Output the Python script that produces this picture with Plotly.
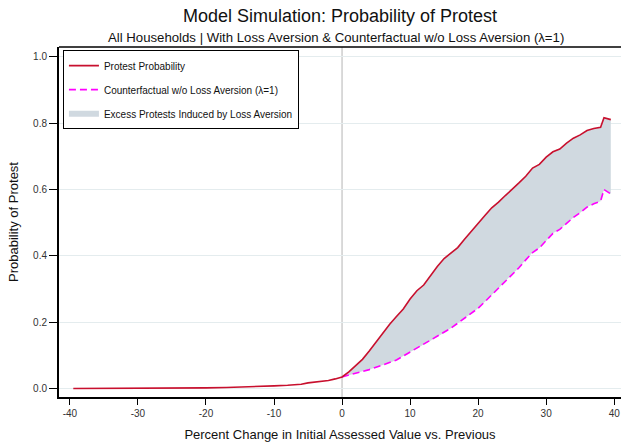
import plotly.graph_objects as go

# ---- data ----
x_neg = [-39.5, -35, -30, -25, -20, -17, -15, -12, -10, -8, -6, -5, -4, -3, -2, -1]
protest_neg = [0.000, 0.000, 0.000, 0.001, 0.002, 0.003, 0.004, 0.006, 0.008, 0.010,
               0.013, 0.017, 0.019, 0.021, 0.024, 0.029]

x_pos = [0, 1, 2, 3, 4, 5, 6, 7, 8, 9, 10, 11, 12, 13, 14, 15, 16, 17, 18, 19, 20,
         21, 22, 23, 24, 25, 26, 27, 28, 29, 30, 31, 32, 33, 34, 35, 36, 37, 38, 38.5, 39.5]
protest_pos = [0.035, 0.050, 0.068, 0.088, 0.113, 0.140, 0.168, 0.194, 0.217, 0.240,
               0.270, 0.295, 0.312, 0.340, 0.368, 0.392, 0.408, 0.425, 0.450, 0.475,
               0.498, 0.522, 0.545, 0.562, 0.582, 0.600, 0.620, 0.640, 0.665, 0.676,
               0.698, 0.714, 0.722, 0.740, 0.755, 0.765, 0.778, 0.784, 0.788, 0.817, 0.811]
counterfactual_pos = [0.035, 0.040, 0.046, 0.052, 0.057, 0.064, 0.071, 0.078, 0.086, 0.098,
                      0.110, 0.121, 0.133, 0.144, 0.156, 0.168, 0.182, 0.197, 0.212, 0.226,
                      0.242, 0.262, 0.282, 0.302, 0.324, 0.344, 0.364, 0.388, 0.410, 0.424,
                      0.445, 0.468, 0.480, 0.498, 0.516, 0.530, 0.547, 0.557, 0.565, 0.600, 0.587]

x_ticks = [-40, -30, -20, -10, 0, 10, 20, 30, 40]
y_ticks = [0.0, 0.2, 0.4, 0.6, 0.8, 1.0]

RED = "#C8102E"
MAG = "#FF00FF"
FILL = "#D0D9E0"
FONT = "Liberation Sans"

x_all = x_neg + x_pos
protest_all = protest_neg + protest_pos

fig = go.Figure()

# shaded gap (polygon built from the two series)
fig.add_trace(go.Scatter(
    x=x_pos + x_pos[::-1],
    y=counterfactual_pos + protest_pos[::-1],
    fill="toself", fillcolor=FILL, mode="none",
    name="Excess Protests Induced by Loss Aversion",
    legendrank=3, legendgroup="c", hoverinfo="skip"))

fig.add_trace(go.Scatter(
    x=x_pos, y=counterfactual_pos, mode="lines",
    line=dict(color=MAG, width=1.6, dash="7px,4px"),
    name="Counterfactual w/o Loss Aversion (λ=1)",
    legendrank=2, legendgroup="b"))

fig.add_trace(go.Scatter(
    x=x_all, y=protest_all, mode="lines",
    line=dict(color=RED, width=1.6),
    name="Protest Probability",
    legendrank=1, legendgroup="a"))

fig.update_layout(
    width=621, height=445,
    margin=dict(l=59, r=0, t=47, b=48),
    plot_bgcolor="white", paper_bgcolor="white",
    font=dict(family=FONT, color="#222"),
    showlegend=True,
    legend=dict(x=0.007, y=0.991, xanchor="left", yanchor="top",
                bordercolor="black", borderwidth=1, bgcolor="white",
                font=dict(size=10, family=FONT, color="#111"),
                tracegroupgap=5, traceorder="grouped"),
    title=dict(text="Model Simulation: Probability of Protest",
               x=0.5, xref="paper", xanchor="center",
               y=1 - 16 / 445, yref="container", yanchor="middle",
               font=dict(size=18, family=FONT, color="#111")),
    xaxis=dict(range=[-41.6, 41.0], tickvals=x_ticks, ticktext=[str(v) for v in x_ticks],
               showgrid=False, zeroline=False,
               showline=True, linecolor="black", linewidth=2,
               ticks="outside", ticklen=6, tickcolor="black", tickwidth=1,
               tickfont=dict(size=10, color="#333"),
               title=dict(text="Percent Change in Initial Assessed Value vs. Previous",
                          font=dict(size=13, color="#111"), standoff=12)),
    yaxis=dict(range=[-0.0256, 1.03], tickvals=y_ticks, ticktext=[f"{v:.1f}" for v in y_ticks],
               showgrid=True, gridcolor="#E4ECEE", gridwidth=1, zeroline=False,
               showline=True, linecolor="black", linewidth=2,
               ticks="outside", ticklen=8, tickcolor="black", tickwidth=1,
               tickfont=dict(size=10, color="#333"),
               title=dict(text="Probability of Protest",
                          font=dict(size=13, color="#111"), standoff=12)),
    shapes=[
        dict(type="line", xref="x", yref="paper", x0=0, x1=0, y0=0, y1=1,
             line=dict(color="#B5B5B5", width=1), layer="below"),
        dict(type="line", xref="paper", yref="paper", x0=0, x1=1, y0=1, y1=1,
             line=dict(color="black", width=1.5)),
    ],
    annotations=[
        dict(text="All Households | With Loss Aversion & Counterfactual w/o Loss Aversion (λ=1)",
             xref="paper", yref="paper", x=0.493, y=1 + 10 / 350, xanchor="center", yanchor="middle",
             showarrow=False, font=dict(size=13.2, family=FONT, color="#111")),
    ],
)

fig.write_html("out.html")
